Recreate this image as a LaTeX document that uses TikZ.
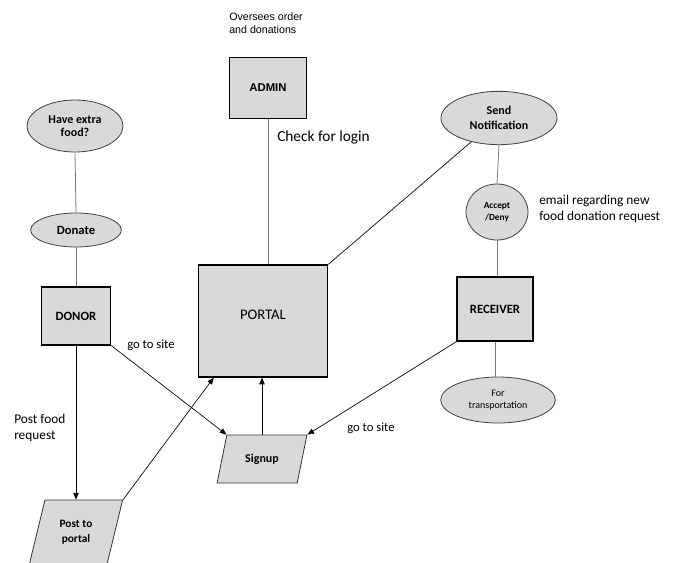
\documentclass[tikz,border=0pt]{standalone}
\usepackage{fontspec}
\setmainfont{Carlito}
\newfontfamily\arialfont{Liberation Sans}
\usepackage{xcolor}
\usetikzlibrary{shapes.geometric, positioning}
\usetikzlibrary{arrows.meta}
\tikzset{>={Triangle[width=4pt,length=5pt]}}
\definecolor{boxgray}{HTML}{D9D9D9}
\definecolor{linegray}{HTML}{777777}

\begin{document}
\begin{tikzpicture}[x=0.75pt, y=-0.75pt, boxnode/.style={rectangle, draw=black, fill=boxgray, line width=0.9pt, inner sep=0pt}, ovalnode/.style={ellipse, draw=black!75, fill=boxgray, line width=0.6pt, inner sep=0pt, align=center}, slantnode/.style={trapezium, trapezium stretches=true, draw=black!80, fill=boxgray, line width=0.6pt, inner sep=0pt, align=center}, textnode/.style={draw=none, fill=none, inner sep=0pt, align=left}, link/.style={draw=linegray, line width=0.6pt}, arrowline/.style={->, draw=black, line width=0.5pt}]

    \useasboundingbox (0,0) rectangle (680,562);

    %Nodes
    \node[ovalnode, minimum width=72pt, minimum height=39pt, font=\bfseries\fontsize{9}{10}\selectfont](have) at (75,126){Have extra\\food?};
    \node[ovalnode, minimum width=68pt, minimum height=25.5pt, font=\bfseries\fontsize{9.5}{11}\selectfont](donate) at (76,230){Donate};
    \node[boxnode, minimum width=52pt, minimum height=43.5pt, font=\bfseries\fontsize{9.5}{11}\selectfont](donor) at (76,316){DONOR};
    \node[slantnode, trapezium left angle=71, trapezium right angle=109, minimum width=70pt, minimum height=48pt, font=\bfseries\fontsize{8.5}{11}\selectfont](post) at (76,532){Post to\\portal};
    \node[boxnode, minimum width=58pt, minimum height=46pt, font=\arialfont\bfseries\fontsize{8.5}{10}\selectfont](admin) at (268,88){ADMIN};
    \node[boxnode, minimum width=97pt, minimum height=84pt, font=\fontsize{11}{13}\selectfont](portal) at (263,321){\raisebox{9pt}{PORTAL}};
    \node[slantnode, trapezium left angle=66, trapezium right angle=114, minimum width=67.5pt, minimum height=36pt, font=\bfseries\fontsize{9}{11}\selectfont](signup) at (262,459){Signup};
    \node[ovalnode, minimum width=87pt, minimum height=40pt, font=\bfseries\fontsize{9}{11}\selectfont](send) at (499,118){Send\\Notification};
    \node[ovalnode, minimum width=46.5pt, minimum height=42pt, font=\bfseries\fontsize{7}{9}\selectfont](accept) at (497,212){Accept\\/Deny};
    \node[boxnode, minimum width=57pt, minimum height=48pt, font=\bfseries\fontsize{9.5}{11}\selectfont](receiver) at (495,309){RECEIVER};
    \node[ovalnode, minimum width=86pt, minimum height=34.5pt, font=\fontsize{7.5}{9.5}\selectfont](transport) at (498,400){For\\transportation};

    \node[textnode, anchor=north west, font=\arialfont\fontsize{8}{10}\selectfont](oversees) at (229,12){Oversees order\\and donations};
    \node[textnode, anchor=west, font=\fontsize{11.5}{13}\selectfont](login) at (277,137){Check for login};
    \node[textnode, anchor=west, font=\fontsize{10}{12}\selectfont](email) at (539,209){email regarding new\\food donation request};
    \node[textnode, anchor=west, font=\fontsize{9.5}{12}\selectfont](site_left) at (127,345){go to site};
    \node[textnode, anchor=west, font=\fontsize{9.5}{12}\selectfont](site_right) at (347,428){go to site};
    \node[textnode, anchor=west, font=\fontsize{10}{12}\selectfont](post_text) at (14,428){Post food\\request};
    \coordinate (portal_in) at ([xshift=12pt]portal.south west);

    %Lines
    \draw[link] (have.south) -- (donate.north);
    \draw[link] (donate.south) -- (donor.north);
    \draw[arrowline] (donor.south) -- (donor.south |- post.north);
    \draw[arrowline] (donor.south east) -- (signup.top left corner);
    \draw[arrowline] (post.top right corner) -- (portal_in);
    \draw[arrowline] (signup.north) -- (signup.north |- portal.south);
    \draw[arrowline] (receiver.south west) -- (signup.top right corner);
    \draw[link] (admin.south) -- (admin.south |- portal.north);
    \draw[black, line width=0.5pt] (portal.north east) -- (send);
    \draw[link] (send.south) -- (accept.north);
    \draw[link] (accept.south) -- (accept.south |- receiver.north);
    \draw[link] (receiver.south) -- (receiver.south |- transport.north);

\end{tikzpicture}
\end{document}
